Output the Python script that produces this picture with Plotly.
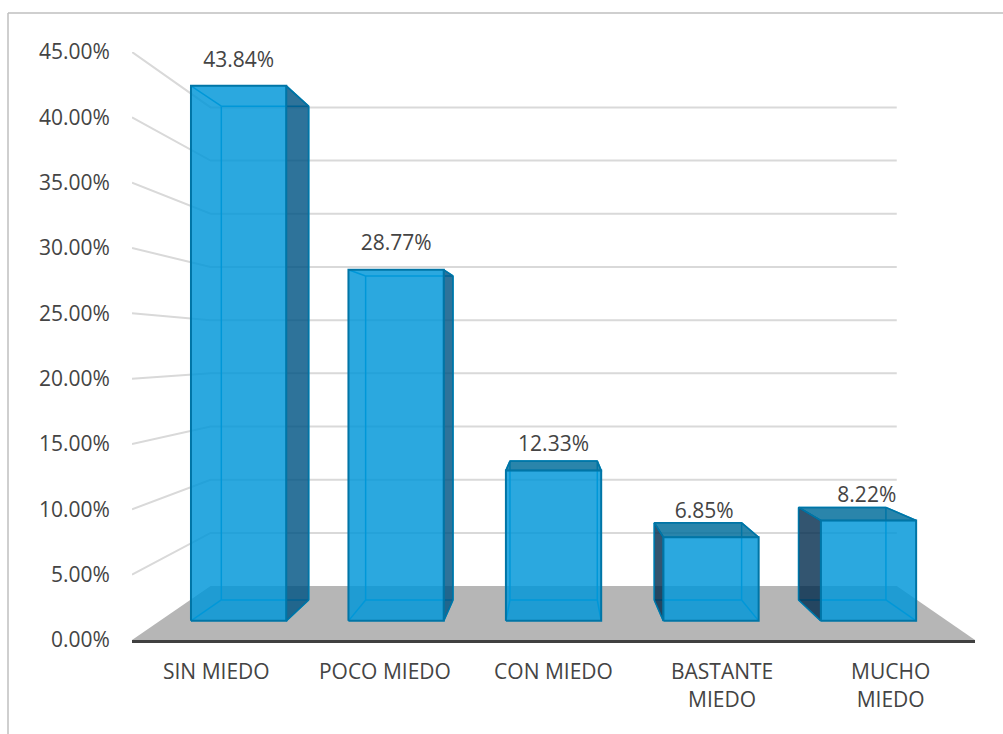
import plotly.graph_objects as go

# ---- data ----
categories = ["SIN MIEDO", "POCO MIEDO", "CON MIEDO", "BASTANTE<br>MIEDO", "MUCHO<br>MIEDO"]
values = [43.84, 28.77, 12.33, 6.85, 8.22]
value_labels = ["43.84%", "28.77%", "12.33%", "6.85%", "8.22%"]
y_ticks = [0, 5, 10, 15, 20, 25, 30, 35, 40, 45]
y_tick_labels = ["0.00%", "5.00%", "10.00%", "15.00%", "20.00%", "25.00%", "30.00%", "35.00%", "40.00%", "45.00%"]

# ---- perspective model (style / layout only) ----
VX, VY = 2.005, 22.19          # vanishing point in axis units
S_WALL, S_FRONT, S_BACK = 0.814, 0.934, 0.862
BACK_X_SQUEEZE = 0.006
HALF = 0.3025
X0, X1 = -0.5, 4.5
label_dx = [-0.0, 0.0, 0.0, -0.04, -0.01]     # axis units, label nudges
label_dy = [1.85, 1.9, 1.15, 0.8, 0.85]       # above the highest bar edge

TEXT = "#444444"
FONT = "Open Sans"
FS = 21


def proj(x, v, s, dsx=0.0):
    return VX + (x - VX) * (s - dsx), VY + (v - VY) * s


def poly(points, fill=None, line=None, width=1.5):
    xs = [p[0] for p in points]
    ys = [p[1] for p in points]
    if fill:
        xs.append(xs[0]); ys.append(ys[0])
    return go.Scatter(x=xs, y=ys, mode="lines", fill="toself" if fill else None,
                      fillcolor=fill, line=dict(color=line or "rgba(0,0,0,0)", width=width),
                      hoverinfo="skip", showlegend=False)


fig = go.Figure()

# floor
fig.add_trace(poly([proj(X0, 0, 1), proj(X1, 0, 1), proj(X1, 0, S_WALL), proj(X0, 0, S_WALL)],
                   fill="#B6B6B6"))

# wall gridlines
for t in y_ticks[1:]:
    fig.add_trace(poly([proj(X0, t, 1), proj(X0, t, S_WALL), proj(X1, t, S_WALL)],
                       line="#D9D9D9", width=2))

EDGE = "#0075A6"
INNER = "#009CD6"
label_x, label_y = [], []
for i, v in enumerate(values):
    l, r = i - HALF, i + HALF
    fbl, fbr = proj(l, 0, S_FRONT), proj(r, 0, S_FRONT)
    ftl, ftr = proj(l, v, S_FRONT), proj(r, v, S_FRONT)
    bbl, bbr = proj(l, 0, S_BACK, BACK_X_SQUEEZE), proj(r, 0, S_BACK, BACK_X_SQUEEZE)
    btl, btr = proj(l, v, S_BACK, BACK_X_SQUEEZE), proj(r, v, S_BACK, BACK_X_SQUEEZE)

    # inner edges of the back of the box
    for seg in ([bbl, bbr], [bbl, btl], [bbr, btr], [btl, btr], [fbl, bbl], [fbr, bbr], [ftl, btl], [ftr, btr]):
        fig.add_trace(poly(seg, line=INNER, width=1.5))

    # outer faces
    if btr[0] > ftr[0]:
        fig.add_trace(poly([fbr, bbr, btr, ftr], fill="rgba(0,84,132,0.82)", line=EDGE, width=1.5))
    if btl[0] < ftl[0]:
        fig.add_trace(poly([fbl, bbl, btl, ftl], fill="rgba(0,43,76,0.8)", line=EDGE, width=1.5))
    if btl[1] > ftl[1]:
        fig.add_trace(poly([ftl, ftr, btr, btl], fill="rgba(0,109,154,0.835)", line=EDGE, width=1.5))

    # front face
    fig.add_trace(poly([fbl, fbr, ftr, ftl], fill="rgba(0,150,217,0.83)", line=EDGE, width=2))

    label_x.append((fbl[0] + fbr[0]) / 2 + label_dx[i])
    label_y.append(max(ftl[1], btl[1]) + label_dy[i])

fig.add_trace(go.Scatter(x=label_x, y=label_y, mode="text", text=value_labels,
                         textposition="middle center", cliponaxis=False,
                         textfont=dict(family=FONT, size=FS, color=TEXT),
                         hoverinfo="skip", showlegend=False))

PW, PH = 843, 588
fig.update_layout(
    width=1003, height=734,
    margin=dict(l=132, r=28, t=52, b=94, pad=0),
    paper_bgcolor="white", plot_bgcolor="white",
    font=dict(family=FONT, size=FS, color=TEXT),
    xaxis=dict(range=[X0, X1], tickmode="array", tickvals=list(range(len(categories))),
               ticktext=categories, showgrid=False, zeroline=False,
               showline=True, linecolor="#404040", linewidth=3,
               ticks="outside", ticklen=11, tickcolor="rgba(0,0,0,0)", fixedrange=True,
               tickfont=dict(family=FONT, size=FS, color=TEXT)),
    yaxis=dict(range=[0, 45], tickmode="array", tickvals=y_ticks, ticktext=y_tick_labels,
               showgrid=False, zeroline=False, showline=False,
               ticks="outside", ticklen=17, tickcolor="rgba(0,0,0,0)", fixedrange=True),
    shapes=[
        dict(type="line", xref="paper", yref="paper",
             x0=(8 - 132) / PW, x1=(1003 - 132) / PW, y0=(640 - 13) / PH, y1=(640 - 13) / PH,
             line=dict(color="#BFBFBF", width=1.5)),
        dict(type="line", xref="paper", yref="paper",
             x0=(8 - 132) / PW, x1=(8 - 132) / PW, y0=(640 - 13) / PH, y1=(640 - 734) / PH,
             line=dict(color="#BFBFBF", width=1.5)),
    ],
)

fig.write_html("out.html", config={"displayModeBar": False},
               post_script="document.body.style.margin='0';document.body.style.overflow='hidden';")
